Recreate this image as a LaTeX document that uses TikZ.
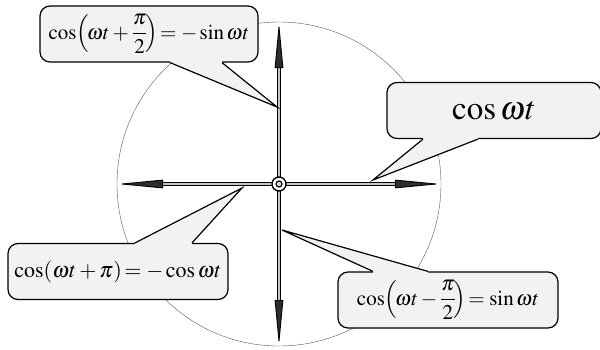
\documentclass[tikz,border=0pt]{standalone}
\usepackage{amsmath}
\usepackage{mathptmx}
\usepackage{tikz}
\usetikzlibrary{arrows.meta,calc}
\tikzset{
    bubble/.style={draw,line width=1.2pt,rounded corners=10pt,fill=gray!10,
        inner sep=0pt,minimum height=56pt,font=\fontsize{21}{25}\selectfont},
    bubblefill/.style={fill=gray!10},
    bubbleline/.style={draw,line width=1.2pt,line join=miter},
    vec/.style={line width=0.9pt,double=gray!45,double distance=2.4pt,
        -{Triangle[length=46pt,width=8.5pt,fill=gray!35!black]}},
    hub/.style={circle,draw,line width=1.3pt,fill=white,minimum size=14pt,inner sep=0pt}
}
\begin{document}
\begin{tikzpicture}[x=1pt,y=-1pt]
    \useasboundingbox (0,0) rectangle (600,349);
    \coordinate (o) at (279,184);
    \draw[gray!70!black,thin] (o) circle[radius=162pt];

    % axes
    \coordinate (xr) at (441,184);
    \coordinate (xl) at (117,184);
    \coordinate (yu) at (279,22);
    \coordinate (yd) at (279,346);
    \draw[vec] (o) -- (xr);
    \draw[vec] (o) -- (xl);
    \draw[vec] (o) -- (yu);
    \draw[vec] (o) -- (yd);
    \node[hub] (hub) at (o) {};
    \draw[line width=1.1pt,fill=gray!30] (hub.center) circle[radius=3pt];

    % callouts
    \coordinate (t1) at (277,107);
    \coordinate (t2) at (373,180);
    \coordinate (t3) at (242,188);
    \coordinate (t4) at (282,230);

    \node[bubble,minimum width=218pt] (b1) at (149,34)
        {$\cos\!\left(\!\omega t+\dfrac{\pi}{2}\!\right)\!=-\sin\omega t$};
    \node[bubble,minimum width=214pt,font=\fontsize{33}{36}\selectfont] (b2) at (494,110.5)
        {$\cos\omega t$};
    \node[bubble,minimum width=220pt,font=\fontsize{22}{26}\selectfont] (b3) at (118,271.5)
        {$\cos\!\left(\omega t+\pi\right)\!=-\cos\omega t$};
    \node[bubble,minimum width=220pt] (b4) at (448,300)
        {$\cos\!\left(\!\omega t-\dfrac{\pi}{2}\!\right)\!=\sin\omega t$};

    \fill[bubblefill] ($(b1.south)+(21,-2)$) -- ($(b1.south)+(21,0)$) -- (t1)
        -- ($(b1.south)+(73,0)$) -- ($(b1.south)+(73,-2)$) -- cycle;
    \draw[bubbleline] ($(b1.south)+(21,0)$) -- (t1) -- ($(b1.south)+(73,0)$);

    \fill[bubblefill] ($(b2.south)+(-71,-2)$) -- ($(b2.south)+(-71,0)$) -- (t2)
        -- ($(b2.south)+(-16,0)$) -- ($(b2.south)+(-16,-2)$) -- cycle;
    \draw[bubbleline] ($(b2.south)+(-71,0)$) -- (t2) -- ($(b2.south)+(-16,0)$);

    \fill[bubblefill] ($(b3.north)+(17,2)$) -- ($(b3.north)+(17,0)$) -- (t3)
        -- ($(b3.north)+(74,0)$) -- ($(b3.north)+(74,2)$) -- cycle;
    \draw[bubbleline] ($(b3.north)+(17,0)$) -- (t3) -- ($(b3.north)+(74,0)$);

    \fill[bubblefill] ($(b4.north)+(-75,2)$) -- ($(b4.north)+(-75,0)$) -- (t4)
        -- ($(b4.north)+(-20,0)$) -- ($(b4.north)+(-20,2)$) -- cycle;
    \draw[bubbleline] ($(b4.north)+(-75,0)$) -- (t4) -- ($(b4.north)+(-20,0)$);
\end{tikzpicture}
\end{document}
